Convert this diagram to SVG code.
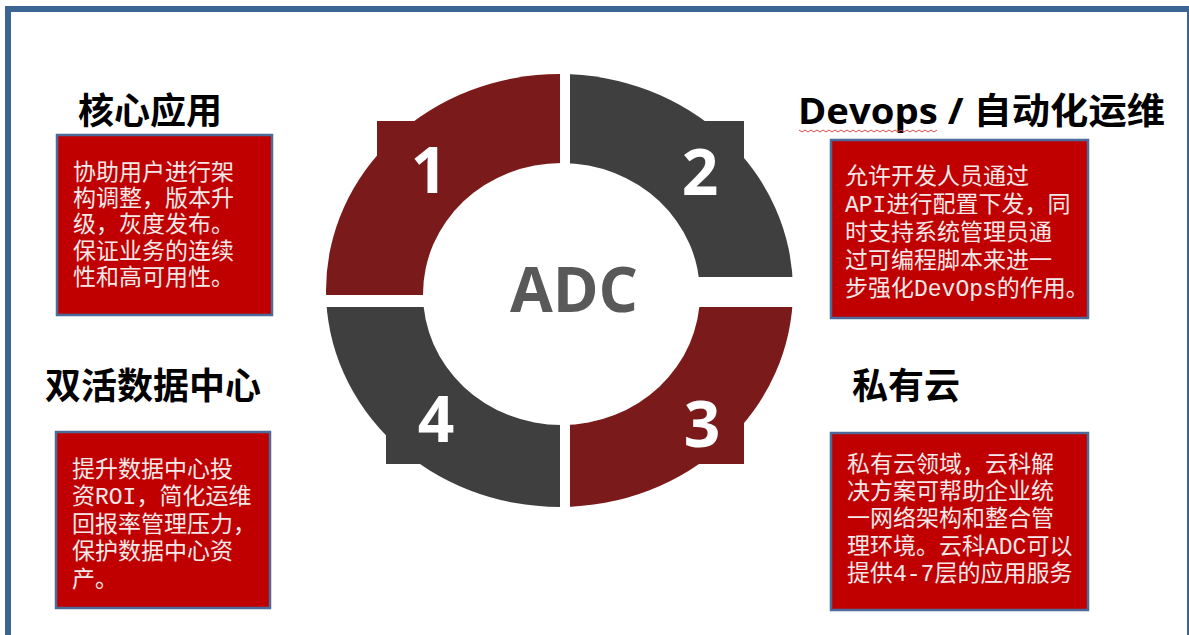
<svg xmlns="http://www.w3.org/2000/svg" width="1189" height="635" viewBox="0 0 1189 635">
<style>
.red{fill:#7a1a1b}
.gray{fill:#3f3f3f}
.num{font-family:"Open Sans","Liberation Sans",sans-serif;font-weight:700;font-size:64px;fill:#ffffff;text-anchor:middle}
.head{font-family:"Open Sans","Noto Sans CJK SC",sans-serif;font-weight:700;font-size:36px;fill:#000000}
.box{fill:#c00000;stroke:#4d6b9a;stroke-width:2.5}
.body{font-family:"Liberation Mono","Noto Sans CJK SC",monospace;font-size:23px;fill:#f6e8e8}
</style>
<defs>
<mask id="ring" maskUnits="userSpaceOnUse" x="290" y="40" width="540" height="500">
<ellipse cx="559.5" cy="290.5" rx="233.5" ry="216.5" fill="#fff"/>
<rect x="377" y="121" width="367" height="175" fill="#fff"/>
<rect x="386" y="290" width="358" height="174" fill="#fff"/>
<ellipse cx="561.5" cy="294" rx="138.5" ry="131" fill="#000"/>
</mask>
</defs>
<rect x="0" y="0" width="1189" height="635" fill="#ffffff"/>
<rect x="8" y="9" width="1182" height="640" fill="none" stroke="#3d6594" stroke-width="6"/>

<g id="ring-center">
<g id="seg1">
<rect class="red" x="300" y="50" width="260" height="245" mask="url(#ring)"/>
<text class="num" x="429" y="193">1</text>
</g>
<g id="seg2">
<rect class="gray" x="570" y="50" width="250" height="227" mask="url(#ring)"/>
<text class="num" x="700" y="195">2</text>
</g>
<g id="seg3">
<rect class="red" x="570" y="307" width="250" height="223" mask="url(#ring)"/>
<text class="num" x="702" y="447">3</text>
</g>
<g id="seg4">
<rect class="gray" x="300" y="307" width="260" height="223" mask="url(#ring)"/>
<text class="num" x="436" y="442">4</text>
</g>
<text x="574" y="312" font-family="'Open Sans','Liberation Sans',sans-serif" font-weight="700" font-size="62" fill="#595959" text-anchor="middle">ADC</text>
</g>

<g id="node-core">
<text class="head" x="78" y="124">核心应用</text>
<rect class="box" x="57" y="135" width="215" height="180"/>
<text class="body"><tspan x="73" y="180">协助用户进行架</tspan><tspan x="73" y="206">构调整，版本升</tspan><tspan x="73" y="232">级，灰度发布。</tspan><tspan x="73" y="259">保证业务的连续</tspan><tspan x="73" y="285">性和高可用性。</tspan></text>
</g>

<g id="node-devops">
<text class="head" x="798" y="124" textLength="367" lengthAdjust="spacingAndGlyphs">Devops / 自动化运维</text>
<path d="M799 130 l3 2 l3 -2 l3 2 l3 -2 l3 2 l3 -2 l3 2 l3 -2 l3 2 l3 -2 l3 2 l3 -2 l3 2 l3 -2 l3 2 l3 -2 l3 2 l3 -2 l3 2 l3 -2 l3 2 l3 -2 l3 2 l3 -2 l3 2 l3 -2 l3 2 l3 -2 l3 2 l3 -2 l3 2 l3 -2 l3 2 l3 -2 l3 2 l3 -2 l3 2 l3 -2 l3 2 l3 -2 l3 2 l3 -2 l3 2 l3 -2 l3 2 l3 -2" fill="none" stroke="#e04848" stroke-width="1"/>
<rect class="box" x="831" y="140" width="257" height="178"/>
<text class="body"><tspan x="845" y="184">允许开发人员通过</tspan><tspan x="845" y="212">API进行配置下发，同</tspan><tspan x="845" y="240">时支持系统管理员通</tspan><tspan x="845" y="268">过可编程脚本来进一</tspan><tspan x="845" y="296">步强化DevOps的作用。</tspan></text>
</g>

<g id="node-dc">
<text class="head" x="45" y="399">双活数据中心</text>
<rect class="box" x="56" y="432" width="214" height="176"/>
<text class="body"><tspan x="72" y="477">提升数据中心投</tspan><tspan x="72" y="504">资ROI，简化运维</tspan><tspan x="72" y="532">回报率管理压力，</tspan><tspan x="72" y="559">保护数据中心资</tspan><tspan x="72" y="587">产。</tspan></text>
</g>

<g id="node-cloud">
<text class="head" x="852" y="399">私有云</text>
<rect class="box" x="831" y="433" width="257" height="177"/>
<text class="body"><tspan x="847" y="472">私有云领域，云科解</tspan><tspan x="847" y="499">决方案可帮助企业统</tspan><tspan x="847" y="526">一网络架构和整合管</tspan><tspan x="847" y="554">理环境。云科ADC可以</tspan><tspan x="847" y="581">提供4-7层的应用服务</tspan></text>
</g>

<g id="connectors"></g>
</svg>
